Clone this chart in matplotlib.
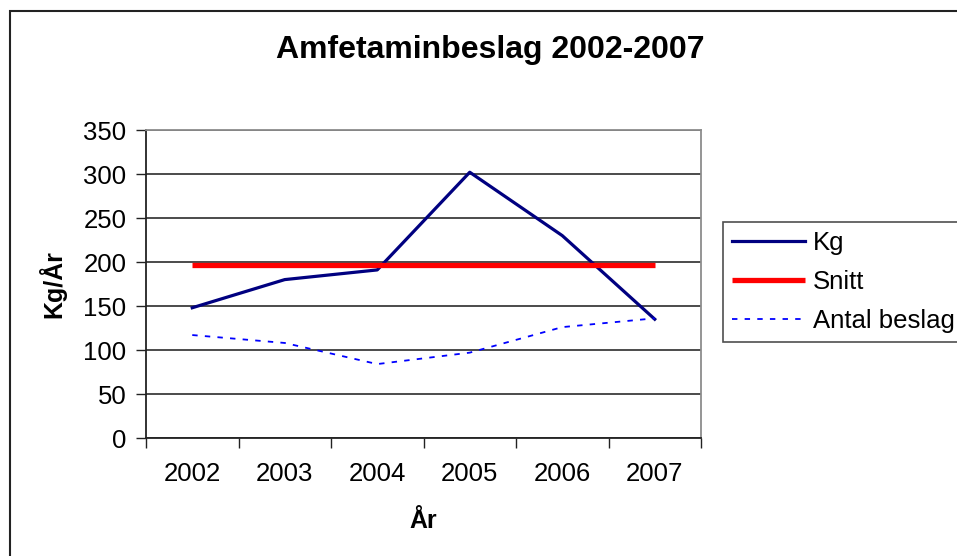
import numpy as np
import matplotlib.pyplot as plt
from matplotlib.patches import Rectangle

years = ["2002", "2003", "2004", "2005", "2006", "2007"]
kg = [148, 180, 191, 302, 230, 135]
snitt = [197, 197, 197, 197, 197, 197]
antal_beslag = [117, 108, 84, 97, 126, 136]

plt.rcParams['font.family'] = ['Liberation Sans', 'DejaVu Sans']

W, H = 957, 556
fig = plt.figure(figsize=(W / 100, H / 100), dpi=100)

# outer chart border (runs off the right and bottom edges)
fig.patches.append(Rectangle((10 / W, -0.05), 1.1, 1 - 11 / H + 0.05,
                             transform=fig.transFigure, fill=False,
                             edgecolor='#222222', linewidth=1.5))

left, right, top, bottom = 146, 701, 130, 438
ax = fig.add_axes([left / W, 1 - bottom / H, (right - left) / W, (bottom - top) / H])

x = np.arange(len(years))
ax.plot(x, kg, color='#000080', linewidth=2.3, label='Kg', zorder=3)
ax.plot(x, snitt, color='#FF0000', linewidth=3.8, label='Snitt', zorder=3,
        solid_capstyle='butt')
ax.plot(x, antal_beslag, color='#0000FF', linewidth=1.3, linestyle=(0, (3, 4)),
        label='Antal beslag', zorder=3)

ax.set_xlim(-0.5, len(years) - 0.5)
ax.set_ylim(0, 350)
ax.set_yticks(np.arange(0, 351, 50))
ax.yaxis.grid(True, color='#1a1a1a', linewidth=1.1)
ax.set_axisbelow(True)

ax.set_xticks(np.arange(-0.5, len(years), 1))
ax.set_xticklabels([])
ax.set_xticks(x, minor=True)
ax.set_xticklabels(years, minor=True)
ax.tick_params(axis='x', which='minor', length=0, pad=17, labelsize=18.5)
ax.tick_params(axis='x', which='major', length=7, width=1, color='#222222')
ax.tick_params(axis='y', length=7, width=1, color='#222222', labelsize=18.5, pad=7)

for side in ['top', 'right']:
    ax.spines[side].set_color('#8c8c8c')
    ax.spines[side].set_linewidth(1.3)
for side in ['left', 'bottom']:
    ax.spines[side].set_color('#222222')
    ax.spines[side].set_linewidth(1.3)

ax.set_xlabel('År', fontsize=18, fontweight='bold', labelpad=17)
ax.set_ylabel('Kg/År', fontsize=18, fontweight='bold', labelpad=12)

fig.text(490 / W, 1 - 50 / H, 'Amfetaminbeslag 2002-2007', fontsize=23,
         fontweight='bold', ha='center', va='center')

leg = fig.legend(loc='upper left', bbox_to_anchor=(723 / W, 1 - 222 / H),
                 fontsize=18.5, frameon=True, fancybox=False, handlelength=2.85,
                 handletextpad=0.3, borderpad=0.35, labelspacing=0.58,
                 borderaxespad=0)
leg.get_frame().set_edgecolor('#222222')
leg.get_frame().set_linewidth(1.2)

fig.savefig('out.png', dpi=100)
